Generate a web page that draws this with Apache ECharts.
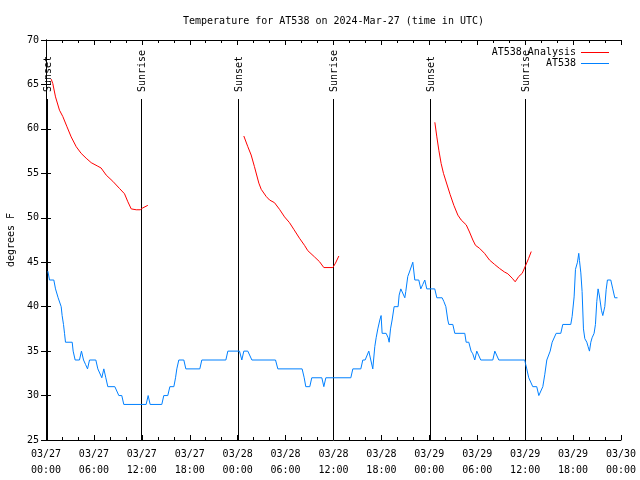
<!DOCTYPE html>
<html>
<head>
<meta charset="utf-8">
<script src="https://cdn.jsdelivr.net/npm/echarts@6/dist/echarts.min.js"></script>
<style>html,body{margin:0;padding:0;background:#fff}#c{width:640px;height:480px}</style>
</head>
<body>
<div id="c"></div>
<script>
// ---- data (x = hours since 03/27 00:00 UTC, y = degrees F) ----
var xTickLabels = ['03/27\n00:00','03/27\n06:00','03/27\n12:00','03/27\n18:00','03/28\n00:00','03/28\n06:00','03/28\n12:00','03/28\n18:00','03/29\n00:00','03/29\n06:00','03/29\n12:00','03/29\n18:00','03/30\n00:00'];
var yTicks = [25,30,35,40,45,50,55,60,65,70];

var sunTimes  = [0.15, 12.0, 24.1, 36.0, 48.15, 60.0];
var sunLabels = ['Sunset','Sunrise','Sunset','Sunrise','Sunset','Sunrise'];

var obsTimes = [0.23,0.44,0.98,1.19,1.52,1.77,1.90,2.02,2.19,2.32,2.44,3.28,3.40,3.65,4.19,4.44,4.70,4.95,5.20,5.45,6.24,6.49,6.74,6.99,7.24,7.49,7.74,8.62,8.87,9.12,9.49,9.74,12.54,12.79,13.04,14.50,14.75,15.25,15.51,16.01,16.22,16.38,16.63,17.26,17.51,19.26,19.51,22.52,22.77,24.23,24.52,24.77,25.27,25.78,28.74,29.03,32.07,32.33,32.53,33.03,33.28,34.54,34.79,35.04,38.17,38.42,39.42,39.67,39.96,40.42,40.67,40.92,41.17,41.34,41.55,41.80,41.96,42.09,42.59,42.84,42.97,43.14,43.34,43.59,44.09,44.22,44.43,44.68,44.93,45.05,45.30,45.51,45.76,45.93,46.18,46.68,46.93,47.18,47.43,47.68,48.68,48.94,49.60,49.81,50.07,50.19,50.31,50.44,50.94,51.19,52.44,52.61,52.94,53.23,53.44,53.69,53.94,54.19,54.44,55.95,56.20,56.45,56.70,59.95,60.04,60.20,60.45,60.70,60.95,61.45,61.71,61.96,62.21,62.46,62.71,62.96,63.13,63.38,63.63,63.88,64.46,64.71,65.71,65.88,66.13,66.30,66.55,66.71,66.80,66.97,67.13,67.30,67.47,67.72,67.88,68.05,68.22,68.38,68.63,68.80,68.97,69.13,69.30,69.55,69.72,69.97,70.14,70.30,70.72,70.97,71.22,71.56];
var obsTemps = [44,43,43,42,41,41,40,39,38,37,36,36,35,34,34,35,34,33.5,33,34,34,33,33,32,33,32,31,31,31,30,30,29,29,30,29,29,30,30,31,31,32,33,34,34,33,33,34,34,35,35,34,35,35,34,34,33,33,32,31,31,32,32,31,32,32,33,33,34,34,35,34,33,35.5,36.5,37.5,38.5,39,37,37,36.5,36,37.5,38.5,40,40,41.3,42,42,41,41.7,43.4,43.9,44,45,43,43,42,42.5,43,42,42,41,41,40.6,40,40,38.5,38,38,37,37,36,36,35,34.7,34,35,35,34,34,35,35,34,34,33.6,33,32,32,31,31,30,30,31,32.4,34,34,35,36,36,37,37,38,38,38.9,41.1,44.2,45,46,45.2,43.8,41.7,37.5,36.4,36,35.5,35,36,36.5,37,38,40.6,42,41.2,39.6,39,40,41.9,43,43,42,41,41];

var anaTimes1 = [0.65,0.85,1.19,1.69,2.10,2.60,3.15,3.78,4.40,5.03,5.66,6.49,6.90,7.54,8.37,9.20,9.83,10.25,10.67,11.30,11.80,12.10,12.75];
var anaTemps1 = [65.6,65.1,63.6,62.1,61.4,60.3,59.1,58.0,57.25,56.7,56.2,55.8,55.6,54.8,54.1,53.3,52.7,51.8,51.0,50.9,50.9,51.1,51.4];
var anaTimes2 = [24.77,25.27,25.69,26.10,26.65,26.95,27.57,27.99,28.61,29.24,29.87,30.49,31.03,31.74,32.37,32.78,33.62,34.25,34.79,35.92,36.25,36.67];
var anaTemps2 = [59.2,58.0,57.06,55.75,53.9,53.2,52.4,52.0,51.7,50.95,50.1,49.45,48.7,47.7,46.9,46.3,45.6,45.06,44.4,44.4,44.9,45.7];
var anaTimes3 = [48.69,48.94,49.19,49.48,49.77,50.19,50.61,51.07,51.57,51.99,52.62,53.03,53.45,53.78,54.28,54.91,55.53,56.16,56.79,57.41,57.83,58.38,58.75,59.20,59.63,60.04,60.42,60.76];
var anaTemps3 = [60.74,59.1,57.6,56.1,55.0,53.8,52.6,51.4,50.3,49.75,49.2,48.4,47.5,46.9,46.57,46.0,45.25,44.76,44.3,43.9,43.7,43.2,42.8,43.4,43.75,44.6,45.4,46.2];

// ---- build ----
function zip(a, b) { return a.map(function (v, i) { return [v, b[i]]; }); }
var anaData = zip(anaTimes1, anaTemps1).concat([['-', '-']], zip(anaTimes2, anaTemps2), [['-', '-']], zip(anaTimes3, anaTemps3));
var obsData = zip(obsTimes, obsTemps);

var FONT = 'DejaVu Sans Mono';
var yMin = yTicks[0], yMax = yTicks[yTicks.length - 1];
var sunLineTopFrac = 0.8525; // fraction of plot height where marker line stops

var chart = echarts.init(document.getElementById('c'), null, { renderer: 'canvas' });

var xBase = {
  type: 'value', min: 0, max: 72, interval: 6,
  axisLine: { show: true, lineStyle: { color: '#000', width: 1 } },
  axisTick: { show: true, inside: true, length: 5, lineStyle: { color: '#000' } },
  minorTick: { show: true, splitNumber: 3, length: 3, lineStyle: { color: '#000' } },
  splitLine: { show: false }
};
var yBase = {
  type: 'value', min: yMin, max: yMax, interval: 5,
  axisLine: { show: true, lineStyle: { color: '#000', width: 1 } },
  axisTick: { show: true, inside: true, length: 5, lineStyle: { color: '#000' } },
  splitLine: { show: false }
};

var option = {
  backgroundColor: '#fff',
  animation: false,
  grid: { left: 46, right: 19, top: 40, bottom: 40, show: false, containLabel: false, outerBoundsMode: 'none' },
  graphic: [{
    type: 'text', x: 333.5, y: 21,
    style: { text: 'Temperature for AT538 on 2024-Mar-27 (time in UTC)', font: '10px "' + FONT + '"', fill: '#000', align: 'center', verticalAlign: 'middle' }
  }],
  legend: {
    orient: 'vertical', align: 'right', right: 26, top: 42,
    itemWidth: 28, itemHeight: 1, itemGap: 0, icon: 'rect',
    textStyle: { fontFamily: FONT, fontSize: 10, color: '#000', lineHeight: 11 },
    data: ['AT538 Analysis', 'AT538']
  },
  xAxis: [
    Object.assign({}, xBase, {
      position: 'bottom',
      axisLabel: { show: true, color: '#000', fontFamily: FONT, fontSize: 10, lineHeight: 16, margin: 6,
        formatter: function (v) { return xTickLabels[Math.round(v / 6)]; } }
    }),
    Object.assign({}, xBase, { position: 'top', axisLabel: { show: false } })
  ],
  yAxis: [
    Object.assign({}, yBase, {
      position: 'left', name: 'degrees F', nameLocation: 'middle', nameRotate: 90, nameGap: 30,
      nameTextStyle: { color: '#000', fontFamily: FONT, fontSize: 10 },
      axisLabel: { show: true, color: '#000', fontFamily: FONT, fontSize: 10, margin: 7 }
    }),
    Object.assign({}, yBase, { position: 'right', axisLabel: { show: false } })
  ],
  series: [
    {
      type: 'custom', name: 'sun', z: 1, silent: true,
      data: sunTimes.map(function (t) { return [t, yMin]; }),
      renderItem: function (params, api) {
        var t = api.value(0);
        var b = api.coord([t, yMin]);
        var topY = api.coord([t, yMax])[1];
        var y2 = b[1] - (b[1] - topY) * sunLineTopFrac;
        var x = Math.round(b[0] - 0.5) + 0.5;
        return {
          type: 'group',
          children: [
            { type: 'line', shape: { x1: x, y1: b[1], x2: x, y2: y2 }, style: { stroke: '#000', lineWidth: 1 } },
            { type: 'text', x: x + 1, y: y2 - 7, rotation: Math.PI / 2,
              style: { text: sunLabels[params.dataIndex], font: '10px "' + FONT + '"', fill: '#000', align: 'left', verticalAlign: 'middle' } }
          ]
        };
      }
    },
    {
      type: 'line', name: 'AT538 Analysis', data: anaData, symbol: 'none', connectNulls: false, z: 3,
      lineStyle: { color: '#ff0000', width: 1 }, itemStyle: { color: '#ff0000' }
    },
    {
      type: 'line', name: 'AT538', data: obsData, symbol: 'none', z: 2,
      lineStyle: { color: '#0080ff', width: 1 }, itemStyle: { color: '#0080ff' }
    }
  ]
};
chart.setOption(option);
</script>
</body>
</html>
